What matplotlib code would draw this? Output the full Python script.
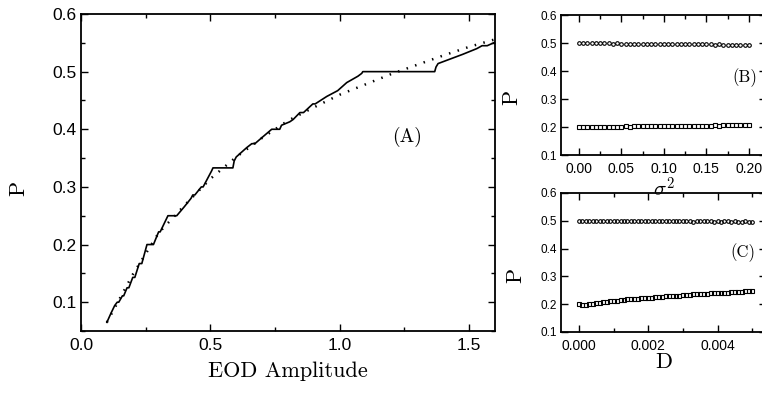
import numpy as np
import matplotlib
matplotlib.use("Agg")
import matplotlib.pyplot as plt
from matplotlib.ticker import MultipleLocator, FormatStrFormatter

plt.rcParams["font.family"] = ["Liberation Sans", "DejaVu Sans"]
plt.rcParams["mathtext.fontset"] = "cm"

# -------------------------------
# Panel A: locking ratio vs EOD amplitude
# -------------------------------
amp_solid = [0.100, 0.115, 0.130, 0.140, 0.146, 0.160, 0.165, 0.178, 0.185, 0.200,
             0.208, 0.225, 0.235, 0.255, 0.280, 0.300, 0.306, 0.336, 0.370, 0.400,
             0.425, 0.432, 0.440, 0.465, 0.472, 0.505, 0.510, 0.587, 0.592, 0.600,
             0.620, 0.640, 0.660, 0.672, 0.703, 0.737, 0.768, 0.775, 0.807, 0.820,
             0.846, 0.860, 0.896, 0.905, 0.950, 0.992, 1.027, 1.070, 1.085, 1.089,
             1.367, 1.372, 1.380, 1.475, 1.530, 1.550, 1.570, 1.600]
p_solid = [0.065, 0.080, 0.094, 0.100, 0.100, 0.111, 0.111, 0.125, 0.125, 0.143,
           0.143, 0.167, 0.167, 0.200, 0.200, 0.222, 0.222, 0.250, 0.250, 0.266,
           0.280, 0.286, 0.286, 0.300, 0.300, 0.328, 0.333, 0.333, 0.345, 0.352,
           0.360, 0.368, 0.375, 0.375, 0.387, 0.400, 0.400, 0.407, 0.413, 0.417,
           0.429, 0.429, 0.444, 0.444, 0.457, 0.467, 0.481, 0.492, 0.497, 0.500,
           0.500, 0.508, 0.514, 0.530, 0.540, 0.545, 0.545, 0.551]

amp_dot = [0.10, 0.20, 0.30, 0.40, 0.50, 0.60, 0.70, 0.80, 0.90, 1.00,
           1.10, 1.20, 1.30, 1.40, 1.50, 1.60]
p_dot = [0.065, 0.148, 0.220, 0.268, 0.314, 0.352, 0.385, 0.415, 0.438, 0.460,
         0.478, 0.496, 0.512, 0.528, 0.543, 0.556]

# -------------------------------
# Panel B: P vs noise variance
# -------------------------------
sigma2 = np.linspace(0.0, 0.2, 41)
pb_circ = [0.501, 0.500, 0.500, 0.499, 0.500, 0.499, 0.499, 0.499, 0.498, 0.499,
           0.498, 0.498, 0.498, 0.497, 0.498, 0.497, 0.497, 0.497, 0.497, 0.496,
           0.497, 0.496, 0.496, 0.496, 0.496, 0.495, 0.496, 0.495, 0.495, 0.495,
           0.495, 0.495, 0.494, 0.495, 0.494, 0.494, 0.494, 0.494, 0.494, 0.494,
           0.494]
pb_sq = [0.200, 0.199, 0.199, 0.200, 0.200, 0.200, 0.201, 0.200, 0.201, 0.201,
         0.201, 0.202, 0.201, 0.202, 0.202, 0.202, 0.203, 0.202, 0.203, 0.203,
         0.203, 0.203, 0.204, 0.203, 0.204, 0.204, 0.205, 0.204, 0.205, 0.205,
         0.205, 0.205, 0.206, 0.205, 0.206, 0.206, 0.206, 0.207, 0.206, 0.207,
         0.207]

# -------------------------------
# Panel C: P vs D
# -------------------------------
d_vals = np.linspace(0.0, 0.005, 51)
pc_circ = [0.501,
           0.500, 0.500, 0.500, 0.500, 0.499, 0.500, 0.499, 0.500, 0.499, 0.499,
           0.499, 0.499, 0.499, 0.499, 0.499, 0.499, 0.499, 0.499, 0.499, 0.499,
           0.498, 0.499, 0.498, 0.499, 0.498, 0.498, 0.498, 0.498, 0.498, 0.498,
           0.498, 0.498, 0.497, 0.498, 0.498, 0.498, 0.498, 0.498, 0.497, 0.498,
           0.497, 0.498, 0.498, 0.497, 0.498, 0.497, 0.497, 0.498, 0.497, 0.497]
pc_sq = [0.200,
         0.196, 0.198, 0.200, 0.202, 0.204, 0.206, 0.208, 0.209, 0.211, 0.212,
         0.213, 0.215, 0.216, 0.217, 0.218, 0.219, 0.220, 0.221, 0.222, 0.223,
         0.224, 0.225, 0.226, 0.227, 0.228, 0.229, 0.229, 0.230, 0.231, 0.232,
         0.233, 0.234, 0.235, 0.236, 0.236, 0.237, 0.238, 0.239, 0.239, 0.240,
         0.241, 0.242, 0.242, 0.243, 0.244, 0.244, 0.245, 0.246, 0.246, 0.247]

serif = "cmr10"

fig = plt.figure(figsize=(7.62, 3.98), dpi=100)
axA = fig.add_axes([81 / 762, 1 - 331 / 398, 414 / 762, 317 / 398])
axB = fig.add_axes([561 / 762, 1 - 155 / 398, 205 / 762, 140 / 398])
axC = fig.add_axes([561 / 762, 1 - 332 / 398, 205 / 762, 139 / 398])
for ax in (axA, axB, axC):
    ax.patch.set_visible(False)


def style(ax, lab_x, lab_y):
    for s in ax.spines.values():
        s.set_linewidth(1.3)
    ax.tick_params(which="both", direction="in", top=True, right=True, width=1.0)
    ax.tick_params(which="major", length=5)
    ax.tick_params(which="minor", length=3)
    ax.tick_params(axis="x", labelsize=lab_x, pad=5)
    ax.tick_params(axis="y", labelsize=lab_y, pad=3)


# panel A
axA.plot(amp_solid, p_solid, color="black", lw=1.2)
axA.plot(amp_dot, p_dot, color="black", lw=1.8, linestyle=(0, (0.6, 3.0)))
axA.set_xlim(0, 1.6)
axA.set_ylim(0.05, 0.6)
axA.xaxis.set_major_locator(MultipleLocator(0.5))
axA.xaxis.set_minor_locator(MultipleLocator(0.25))
axA.yaxis.set_major_locator(MultipleLocator(0.1))
axA.yaxis.set_minor_locator(MultipleLocator(0.05))
axA.xaxis.set_major_formatter(FormatStrFormatter("%.1f"))
style(axA, 12.5, 12.5)
axA.set_xlabel("EOD Amplitude", family=serif, fontsize=16, labelpad=6)
axA.set_ylabel("P", family=serif, fontsize=16)
axA.yaxis.set_label_coords(-0.127, 0.45)
axA.text(1.26, 0.386, "(A)", family=serif, fontsize=14, ha="center", va="center")

# panel B
axB.plot(sigma2, pb_circ, "o", ms=2.6, mfc="none", mec="black", mew=0.8)
axB.plot(sigma2, pb_sq, "s", ms=2.8, mfc="none", mec="black", mew=0.8)
axB.set_xlim(-0.021, 0.2202)
axB.set_ylim(0.1, 0.6)
axB.xaxis.set_major_locator(MultipleLocator(0.05))
axB.xaxis.set_minor_locator(MultipleLocator(0.025))
axB.yaxis.set_major_locator(MultipleLocator(0.1))
axB.xaxis.set_major_formatter(FormatStrFormatter("%.2f"))
style(axB, 10, 8.5)
axB.set_xlabel(r"$\sigma^2$", fontsize=15)
axB.xaxis.set_label_coords(0.5, -0.15)
axB.set_ylabel("P", family=serif, fontsize=16)
axB.yaxis.set_label_coords(-0.195, 0.41)
axB.text(0.195, 0.378, "(B)", family=serif, fontsize=12, ha="center", va="center")

# panel C
axC.plot(d_vals, pc_circ, "o", ms=2.6, mfc="none", mec="black", mew=0.8)
axC.plot(d_vals, pc_sq, "s", ms=2.8, mfc="none", mec="black", mew=0.8)
axC.set_xlim(-0.00052, 0.0054)
axC.set_ylim(0.1, 0.6)
axC.xaxis.set_major_locator(MultipleLocator(0.002))
axC.xaxis.set_minor_locator(MultipleLocator(0.001))
axC.yaxis.set_major_locator(MultipleLocator(0.1))
axC.xaxis.set_major_formatter(FormatStrFormatter("%.3f"))
style(axC, 10, 8.5)
axC.set_xlabel("D", family=serif, fontsize=16)
axC.xaxis.set_label_coords(0.5, -0.15)
axC.set_ylabel("P", family=serif, fontsize=16)
axC.yaxis.set_label_coords(-0.175, 0.41)
axC.text(0.00474, 0.384, "(C)", family=serif, fontsize=12, ha="center", va="center")

fig.savefig("out.png", dpi=100)
